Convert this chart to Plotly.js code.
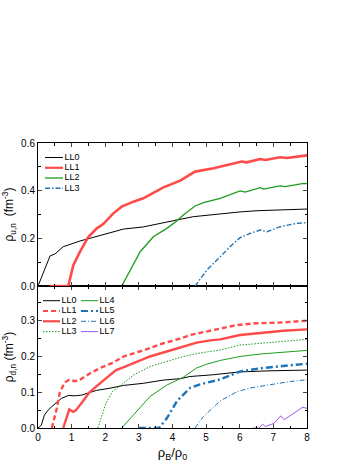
<!DOCTYPE html>
<html>
<head>
<meta charset="utf-8">
<script src="https://cdn.plot.ly/plotly-3.0.1.min.js"></script>
<style>
  html, body { margin: 0; padding: 0; background: #fff; }
  #plot { width: 357px; height: 462px; }
</style>
</head>
<body>
<div id="plot"></div>
<script>
// upper panel: rho_u,n
const uLL0_x = [0, 0.36, 0.5, 0.75, 1.25, 1.55, 2.04, 2.54, 3.13, 3.73, 4.23, 4.62, 5.22, 6.01, 6.51, 7.2, 8.0];
const uLL0_y = [0, 0.127, 0.134, 0.165, 0.189, 0.2, 0.221, 0.239, 0.248, 0.267, 0.28, 0.291, 0.301, 0.311, 0.316, 0.318, 0.323];
const uLL1_x = [0.36, 0.9, 1.05, 1.25, 1.5, 1.75, 1.94, 2.24, 2.49, 2.84, 3.13, 3.73, 4.23, 4.67, 5.22, 5.62, 6.06, 6.21, 6.61, 6.76, 7.2, 7.4, 8.0];
const uLL1_y = [0, 0, 0.088, 0.144, 0.207, 0.242, 0.26, 0.305, 0.333, 0.354, 0.368, 0.414, 0.442, 0.48, 0.494, 0.508, 0.522, 0.519, 0.533, 0.529, 0.54, 0.537, 0.548];
const uLL2_x = [2.49, 2.74, 3.04, 3.43, 3.83, 4.1, 4.32, 4.67, 4.92, 5.42, 6.01, 6.16, 6.61, 6.7, 7.2, 7.35, 7.9, 8.0];
const uLL2_y = [0, 0.067, 0.144, 0.207, 0.242, 0.27, 0.298, 0.336, 0.35, 0.368, 0.399, 0.394, 0.413, 0.407, 0.42, 0.417, 0.431, 0.43];
const uLL3_x = [4.67, 5.02, 5.42, 5.71, 6.01, 6.31, 6.61, 6.81, 7.2, 7.7, 8.0];
const uLL3_y = [0, 0.067, 0.123, 0.165, 0.203, 0.221, 0.235, 0.228, 0.249, 0.263, 0.266];

// lower panel: rho_d,n
const dLL0_x = [0, 0.1, 0.19, 0.3, 0.41, 0.55, 0.7, 0.9, 1.1, 1.3, 1.73, 2.12, 2.54, 3.13, 3.73, 4.23, 4.52, 5.22, 6.01, 6.9, 8.0];
const dLL0_y = [0, 0.008, 0.036, 0.05, 0.06, 0.072, 0.083, 0.091, 0.09, 0.092, 0.105, 0.111, 0.119, 0.125, 0.134, 0.138, 0.144, 0.149, 0.157, 0.16, 0.162];
const dLL1_x = [0.41, 0.5, 0.56, 0.65, 0.71, 0.8, 0.93, 1.1, 1.25, 1.55, 1.85, 2.24, 2.54, 3.13, 3.73, 4.23, 4.52, 5.12, 5.91, 6.51, 7.2, 8.0];
const dLL1_y = [0, 0.03, 0.055, 0.1, 0.112, 0.128, 0.135, 0.131, 0.135, 0.153, 0.168, 0.183, 0.2, 0.217, 0.237, 0.25, 0.26, 0.273, 0.288, 0.293, 0.295, 0.3];
const dLL2_x = [0.75, 0.85, 0.93, 1.05, 1.13, 1.33, 1.53, 1.78, 2.02, 2.32, 2.5, 2.84, 3.33, 3.83, 4.42, 4.72, 5.12, 5.42, 6.01, 6.66, 7.3, 8.0];
const dLL2_y = [0, 0.03, 0.052, 0.045, 0.05, 0.074, 0.1, 0.12, 0.139, 0.162, 0.168, 0.181, 0.2, 0.214, 0.23, 0.239, 0.245, 0.248, 0.26, 0.267, 0.272, 0.276];
const dLL3_x = [1.78, 1.9, 2.02, 2.22, 2.44, 2.84, 3.33, 3.83, 4.32, 4.82, 5.42, 6.01, 6.61, 7.3, 8.0];
const dLL3_y = [0, 0.035, 0.069, 0.103, 0.118, 0.148, 0.172, 0.186, 0.2, 0.21, 0.218, 0.232, 0.237, 0.242, 0.248];
const dLL4_x = [2.49, 2.84, 3.33, 3.83, 4.32, 4.72, 5.0, 5.42, 6.01, 6.61, 7.3, 8.0];
const dLL4_y = [0, 0.036, 0.088, 0.12, 0.142, 0.168, 0.178, 0.189, 0.2, 0.207, 0.211, 0.217];
const dLL5_x = [3.0, 3.6, 3.83, 4.13, 4.52, 4.82, 5.42, 6.01, 6.61, 7.3, 8.0];
const dLL5_y = [0, 0, 0.027, 0.075, 0.112, 0.122, 0.136, 0.158, 0.167, 0.174, 0.18];
const dLL6_x = [4.67, 4.92, 5.42, 5.91, 6.31, 6.9, 7.5, 8.0];
const dLL6_y = [0, 0.032, 0.076, 0.101, 0.112, 0.121, 0.13, 0.135];
const dLL7_x = [6.4, 6.58, 6.68, 6.76, 7.02, 7.22, 7.32, 7.6, 7.87, 8.0];
const dLL7_y = [0, 0, 0.011, 0.004, 0.013, 0.034, 0.023, 0.041, 0.058, 0.055];

const RED = "#ff4a4a", GREEN = "#1c9c1c", BLUE = "#1f74b8", PURPLE = "#a257ee";
const FONT = "Liberation Sans, Arial, sans-serif";

const upper = [
  {name: "LL0", x: uLL0_x, y: uLL0_y, line: {color: "#000", width: 1}},
  {name: "LL1", x: uLL1_x, y: uLL1_y, line: {color: RED, width: 2.6}},
  {name: "LL2", x: uLL2_x, y: uLL2_y, line: {color: GREEN, width: 1.3}},
  {name: "LL3", x: uLL3_x, y: uLL3_y, line: {color: BLUE, width: 1.4, dash: "5px,2px,1.5px,2px"}},
];
const lower = [
  {name: "LL0", x: dLL0_x, y: dLL0_y, line: {color: "#000", width: 1}},
  {name: "LL1", x: dLL1_x, y: dLL1_y, line: {color: RED, width: 2.4, dash: "5px,3px"}},
  {name: "LL2", x: dLL2_x, y: dLL2_y, line: {color: RED, width: 2.4}},
  {name: "LL3", x: dLL3_x, y: dLL3_y, line: {color: GREEN, width: 1, dash: "1.5px,1.5px"}},
  {name: "LL4", x: dLL4_x, y: dLL4_y, line: {color: GREEN, width: 1}},
  {name: "LL5", x: dLL5_x, y: dLL5_y, line: {color: BLUE, width: 2.4, dash: "7px,3px,2px,3px"}},
  {name: "LL6", x: dLL6_x, y: dLL6_y, line: {color: BLUE, width: 1, dash: "5px,2px,1px,2px"}},
  {name: "LL7", x: dLL7_x, y: dLL7_y, line: {color: PURPLE, width: 1}},
];

const traces = [];
upper.forEach(s => traces.push({x: s.x, y: s.y, type: "scatter", mode: "lines", name: s.name,
  line: s.line, xaxis: "x2", yaxis: "y2", showlegend: false}));
lower.forEach(s => traces.push({x: s.x, y: s.y, type: "scatter", mode: "lines", name: s.name,
  line: s.line, xaxis: "x", yaxis: "y", showlegend: false}));

// plot area in pixels: x 38..307, y 143..428
const L = 38, R = 307, T = 143, B = 428;

// compact legends (rows ~10px apart, like the original) on a hidden pixel-scaled axis pair
const legText = {x: [], y: [], text: []};
function legendItem(s, x0, x1, y) {
  traces.push({x: [x0, x1], y: [y, y], type: "scatter", mode: "lines", xaxis: "x3", yaxis: "y3",
    showlegend: false, hoverinfo: "skip",
    line: {color: s.line.color, width: Math.min(s.line.width, 2.2), dash: s.line.dash || "solid"}});
  legText.x.push(x1 + 1.5);
  legText.y.push(y);
  legText.text.push(s.name);
}
const upRows = [157.5, 167.8, 178, 188.3];
upper.forEach((s, i) => legendItem(s, 45, 63, upRows[i]));
const lowRows = [300.7, 311, 321.3, 331.6];
lower.forEach((s, i) => {
  if (i < 4) legendItem(s, 43, 60, lowRows[i]);
  else legendItem(s, 81, 98, lowRows[i - 4]);
});
traces.push({x: legText.x, y: legText.y, text: legText.text, type: "scatter", mode: "text",
  textposition: "middle right", xaxis: "x3", yaxis: "y3", showlegend: false, hoverinfo: "skip",
  textfont: {family: FONT, size: 9, color: "#000"}, cliponaxis: false});

const axFont = {family: FONT, size: 10, color: "#000"};
const baseX = {range: [0, 8], dtick: 1, ticks: "inside", ticklen: 4, tickwidth: 1, showline: true,
  linecolor: "#000", linewidth: 1, mirror: "ticks", showgrid: false, zeroline: false,
  minor: {ticks: "inside", ticklen: 2.5, dtick: 0.5, tickcolor: "#000"}, tickfont: axFont};
const baseY = {ticks: "inside", ticklen: 4, tickwidth: 1, showline: true, linecolor: "#000",
  linewidth: 1, mirror: "ticks", showgrid: false, zeroline: false, tickfont: axFont, tickformat: ".1f"};

const layout = {
  width: 357, height: 462,
  margin: {l: L, r: 357 - R, t: T, b: 462 - B},
  paper_bgcolor: "#fff", plot_bgcolor: "rgba(0,0,0,0)",
  font: {family: FONT, color: "#000"},
  showlegend: false,
  xaxis: Object.assign({}, baseX, {anchor: "y",
    title: {text: "ρ<sub>B</sub>/ρ<sub>0</sub>", font: {size: 13}, standoff: 6}}),
  yaxis: Object.assign({}, baseY, {domain: [0, 0.498], range: [0, 0.397], dtick: 0.1,
    minor: {ticks: "inside", ticklen: 2.5, dtick: 0.05, tickcolor: "#000"},
    title: {text: "ρ<sub>d,n</sub> (fm<sup>-3</sup>)", font: {size: 12}}}),
  xaxis2: Object.assign({}, baseX, {anchor: "y2", showticklabels: false}),
  yaxis2: Object.assign({}, baseY, {domain: [0.498, 1], range: [0, 0.6], dtick: 0.2,
    minor: {ticks: "inside", ticklen: 2.5, dtick: 0.1, tickcolor: "#000"},
    title: {text: "ρ<sub>u,n</sub>  (fm<sup>-3</sup>)", font: {size: 12}}}),
  xaxis3: {domain: [0, 1], range: [L, R], visible: false, anchor: "y3", fixedrange: true},
  yaxis3: {domain: [0, 1], range: [B, T], visible: false, anchor: "x3", fixedrange: true},
};

Plotly.newPlot("plot", traces, layout, {displayModeBar: false});
</script>
</body>
</html>
